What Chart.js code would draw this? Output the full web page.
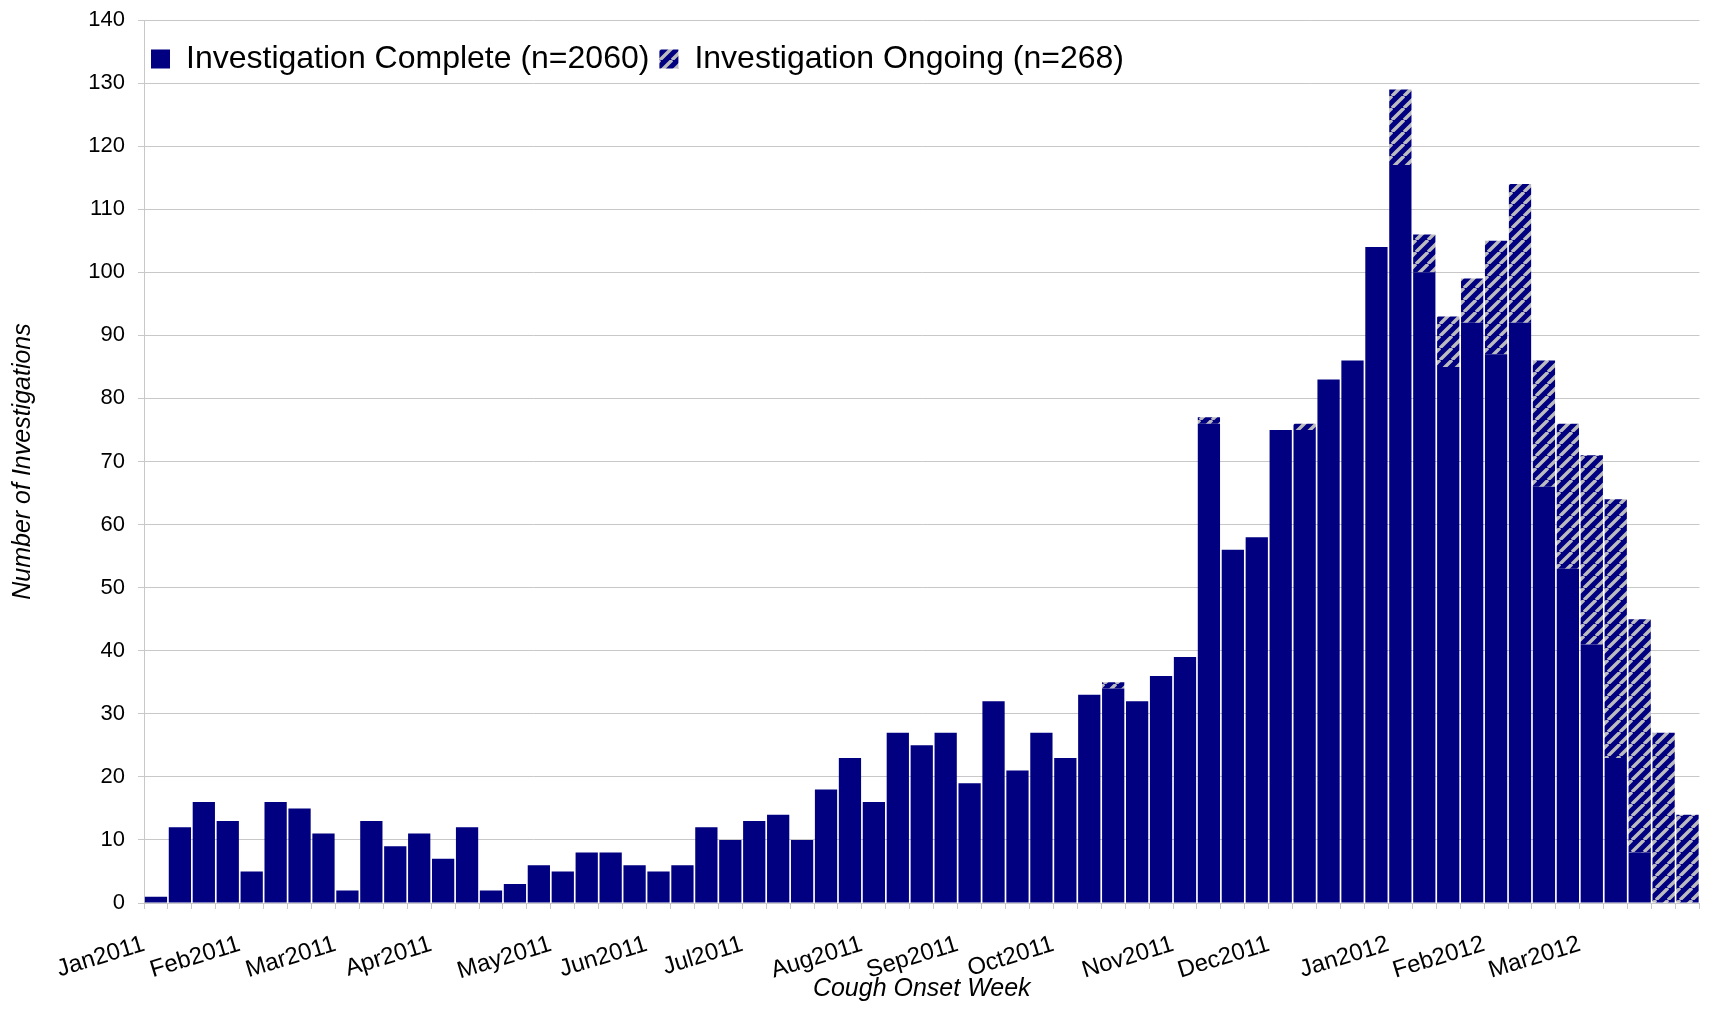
<!DOCTYPE html>
<html>
<head>
<meta charset="utf-8">
<script src="https://cdn.jsdelivr.net/npm/chart.js@4.4.1/dist/chart.umd.min.js"></script>
<style>
html,body{margin:0;padding:0;background:#fff;}
#wrap{width:1717px;height:1013px;position:relative;}
canvas{display:block;}
</style>
</head>
<body>
<div id="wrap"><canvas id="c" width="1717" height="1013" style="width:1717px;height:1013px"></canvas></div>
<script>
// ---- data ----
const monthLabels = ['Jan2011','Feb2011','Mar2011','Apr2011','May2011','Jun2011','Jul2011',
  'Aug2011','Sep2011','Oct2011','Nov2011','Dec2011','Jan2012','Feb2012','Mar2012'];
const monthStartWeek = [0,4,8,12,17,21,25,30,34,38,43,47,52,56,60];

const complete = [
  1,12,16,13,5,16,15,11,2,13,
  9,11,7,12,2,3,6,5,8,8,
  6,5,6,12,10,13,14,10,18,23,
  16,27,25,27,19,32,21,27,23,33,
  34,32,36,39,76,56,58,75,75,83,
  86,104,117,100,85,92,87,92,66,53,
  41,23,8,0,0
];
const ongoing = [
  0,0,0,0,0,0,0,0,0,0,
  0,0,0,0,0,0,0,0,0,0,
  0,0,0,0,0,0,0,0,0,0,
  0,0,0,0,0,0,0,0,0,0,
  1,0,0,0,1,0,0,0,1,0,
  0,0,12,6,8,7,18,22,20,23,
  30,41,37,27,14
];
const seriesNames = ['Investigation Complete (n=2060)', 'Investigation Ongoing (n=268)'];
const yTitle = 'Number of Investigations';
const xTitle = 'Cough Onset Week';

const weekLabels = complete.map((_, i) => {
  const k = monthStartWeek.indexOf(i);
  return k >= 0 ? monthLabels[k] : '';
});

// ---- styles ----
const NAVY = '#000080';
const GRID = '#c8c8c8';
Chart.defaults.font.family = "'Liberation Sans', Arial, sans-serif";
Chart.defaults.color = '#000';

const canvas = document.getElementById('c');
const ctx = canvas.getContext('2d');

function makeHatchTile() {
  const s = 12;
  const t = document.createElement('canvas');
  t.width = s; t.height = s;
  const g = t.getContext('2d');
  g.fillStyle = NAVY;
  g.fillRect(0, 0, s, s);
  g.strokeStyle = '#bcbcc0';
  g.lineWidth = 3.4;
  g.beginPath();
  for (let k = -1; k <= 1; k++) {
    g.moveTo(k * s, s);
    g.lineTo(k * s + s, 0);
  }
  g.stroke();
  return t;
}
const hatch = ctx.createPattern(makeHatchTile(), 'repeat');

// legend drawn inside the plot area, horizontally, without taking layout space
const legendInside = {
  id: 'legendInside',
  beforeLayout(chart) {
    const lg = chart.legend;
    if (lg && !lg._insidePatched) {
      const fit = lg.fit;
      lg.fit = function () { fit.call(this); this.height = 0; };
      lg._insidePatched = true;
    }
  },
  afterLayout(chart) {
    const lg = chart.legend, ca = chart.chartArea;
    if (!lg || !ca) return;
    lg.left = ca.left - 3;
    lg.right = ca.right;
    lg.top = ca.top + 13;
    lg.bottom = ca.bottom;
  }
};

new Chart(ctx, {
  type: 'bar',
  data: {
    labels: weekLabels,
    datasets: [
      { label: seriesNames[0], data: complete, backgroundColor: NAVY, borderWidth: 0 },
      { label: seriesNames[1], data: ongoing, backgroundColor: hatch, borderWidth: 0 }
    ]
  },
  options: {
    responsive: false,
    animation: false,
    devicePixelRatio: 1,
    layout: { padding: { left: 0, right: 7, top: 20, bottom: 0 } },
    datasets: { bar: { barPercentage: 0.93, categoryPercentage: 1 } },
    scales: {
      x: {
        stacked: true,
        grid: { display: true, drawOnChartArea: false, drawTicks: true, tickLength: 6, color: GRID, offset: true },
        border: { display: true, color: GRID, width: 1 },
        ticks: { autoSkip: false, minRotation: 17, maxRotation: 17, padding: 21, labelOffset: -12,
                 color: '#000', font: { size: 24 } },
        title: { display: true, text: xTitle, color: '#000',
                 font: { size: 25, style: 'italic' }, padding: { top: 0, bottom: 9 } },
        afterFit: (s) => { s.height = 110; }
      },
      y: {
        stacked: true,
        min: 0, max: 140,
        ticks: { stepSize: 10, padding: 13, color: '#000', font: { size: 22 } },
        grid: { color: GRID, lineWidth: 1, tickLength: 6, drawTicks: true },
        border: { display: true, color: GRID, width: 1 },
        title: { display: true, text: yTitle, color: '#000',
                 font: { size: 25, style: 'italic' }, padding: { top: 8, bottom: 0 } },
        afterFit: (s) => { s.width = 144; s.paddingTop = 0; s.paddingBottom = 0; }
      }
    },
    plugins: {
      legend: {
        display: true,
        position: 'top',
        align: 'start',
        labels: { boxWidth: 19, boxHeight: 19, padding: 10, color: '#000', font: { size: 32 } }
      },
      tooltip: { enabled: false }
    }
  },
  plugins: [legendInside]
});
</script>
</body>
</html>
